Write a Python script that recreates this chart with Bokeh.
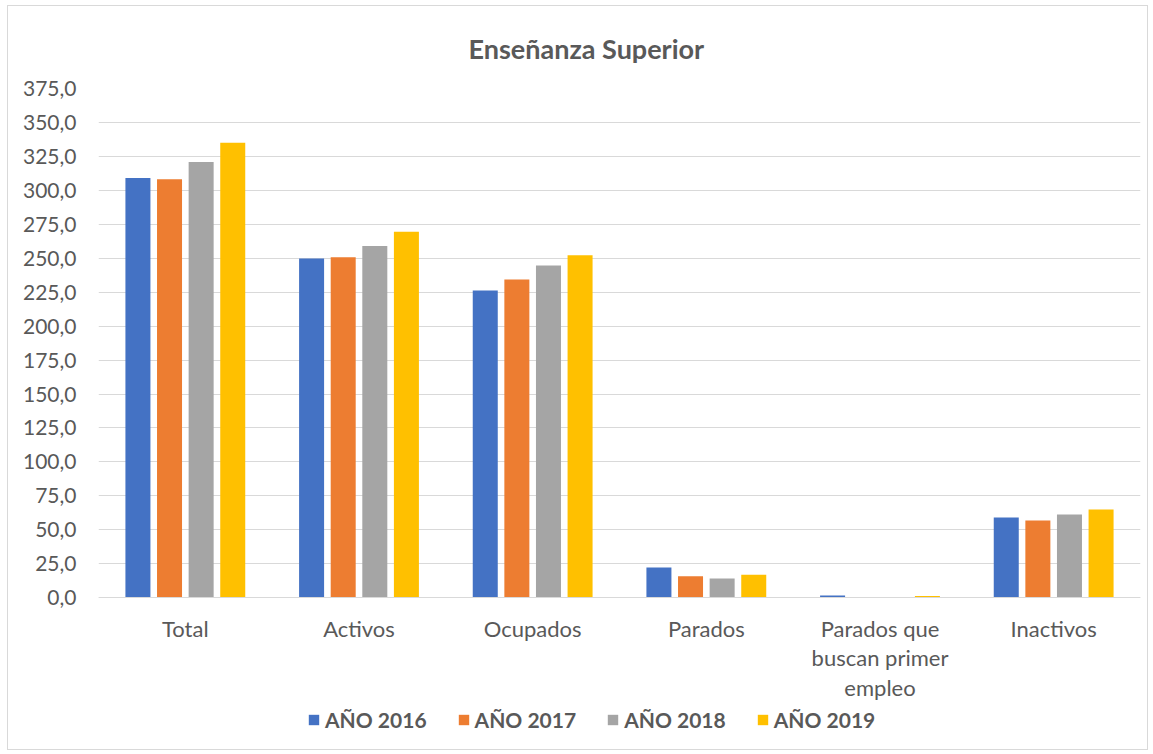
from bokeh.plotting import figure
from bokeh.models import (FactorRange, Range1d, FixedTicker, Legend, LegendItem,
                          ColumnDataSource)
from bokeh.core.properties import value
from bokeh.transform import dodge
from bokeh.embed import file_html
from bokeh.resources import INLINE

categories = ["Total", "Activos", "Ocupados", "Parados",
              "Parados que buscan primer empleo", "Inactivos"]
category_labels = ["Total", "Activos", "Ocupados", "Parados",
                   "Parados que\nbuscan primer\nempleo", "Inactivos"]
series_names = ["AÑO 2016", "AÑO 2017", "AÑO 2018", "AÑO 2019"]
v2016 = [309.0, 249.8, 226.2, 22.3, 1.7, 59.1]
v2017 = [308.1, 250.7, 234.3, 15.9, 0.5, 56.9]
v2018 = [320.8, 259.1, 244.6, 14.2, 0.4, 61.3]
v2019 = [335.1, 269.6, 252.2, 16.9, 1.2, 65.0]
colors = ["#4472C4", "#ED7D31", "#A5A5A5", "#FFC000"]
y_ticks = [0, 25, 50, 75, 100, 125, 150, 175, 200, 225, 250, 275, 300, 325, 350, 375]
y_tick_labels = ["0,0", "25,0", "50,0", "75,0", "100,0", "125,0", "150,0", "175,0",
                 "200,0", "225,0", "250,0", "275,0", "300,0", "325,0", "350,0", "375,0"]

FONT = "Lato"
TXT = "#595959"
GRID = "#d9d9d9"

source = ColumnDataSource(dict(cat=categories, label=category_labels,
                               zero=[0] * len(categories),
                               y2016=v2016, y2017=v2017, y2018=v2018, y2019=v2019))

# frame: 510 px for 0..375, extended below zero to hold category labels and legend
p = figure(width=1141, height=745, x_range=FactorRange(*categories, range_padding=0),
           y_range=Range1d(-107.35, 375), output_backend="svg", toolbar_location=None,
           min_border_left=90, min_border_right=9, min_border_top=81,
           min_border_bottom=8)
p.styles = {"border": "1px solid #d9d9d9", "margin-left": "7px", "margin-top": "5px"}

p.title.text = "Enseñanza Superior"
p.title.align = "left"
p.title.offset = 370
p.title.text_font = FONT
p.title.text_font_style = "bold"
p.title.text_font_size = "27px"
p.title.text_color = TXT
p.title.standoff = 47

offsets = [-0.273, -0.091, 0.091, 0.273]
cols = ["y2016", "y2017", "y2018", "y2019"]
items = []
for name, col, off, c in zip(series_names, cols, offsets, colors):
    r = p.vbar(x=dodge("cat", off, range=p.x_range), top=col, width=0.144,
               source=source, fill_color=c, line_color=None)
    items.append(LegendItem(label=name, renderers=[r]))

# baseline (x axis line)
p.hspan(y=[0], line_color=GRID, line_width=1)

# category labels
p.text(x="cat", y="zero", text="label", source=source, text_align="center",
       text_baseline="top", y_offset=17, text_font=value(FONT),
       text_font_size="22px", text_color=TXT, text_line_height=1.09)

legend = Legend(items=items, orientation="horizontal", location=(209, 11),
                label_text_font=FONT, label_text_font_style="bold",
                label_text_font_size="21px", label_text_color=TXT,
                glyph_width=13, glyph_height=13, label_standoff=5, spacing=30,
                border_line_color=None, background_fill_alpha=0, padding=4, margin=0)
p.add_layout(legend, "center")

p.outline_line_color = None
p.xaxis.visible = False
p.xgrid.grid_line_color = None
p.ygrid.grid_line_color = GRID
p.ygrid.grid_line_width = 1

p.yaxis.ticker = FixedTicker(ticks=y_ticks)
p.yaxis.major_label_overrides = dict(zip(y_ticks, y_tick_labels))
p.yaxis.axis_line_color = None
p.yaxis.major_tick_line_color = None
p.yaxis.minor_tick_line_color = None
p.yaxis.major_label_standoff = 16
p.yaxis.major_label_text_font = FONT
p.yaxis.major_label_text_font_size = "21px"
p.yaxis.major_label_text_color = TXT

open("out.html", "w").write(file_html(p, INLINE))
